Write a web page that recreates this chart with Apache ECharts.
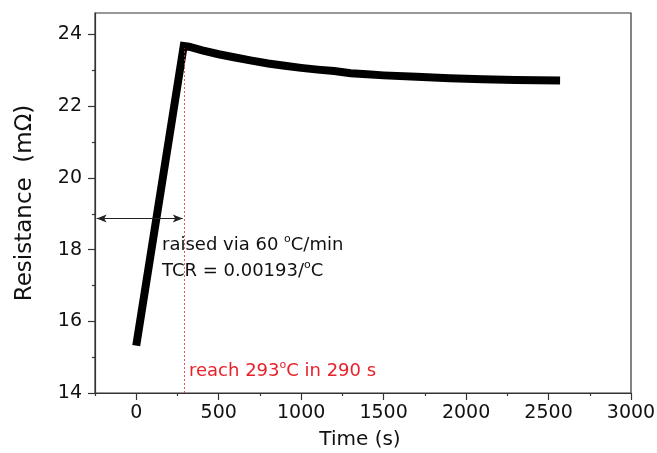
<!DOCTYPE html>
<html>
<head>
<meta charset="utf-8">
<script src="https://cdn.jsdelivr.net/npm/echarts@6/dist/echarts.min.js"></script>
<style>
  html, body { margin: 0; padding: 0; background: #fff; }
  #resistance-chart { width: 657px; height: 453px; }
</style>
</head>
<body>
<div id="resistance-chart"></div>
<script>
// measured curve: time (s) and resistance (mOhm)
var timeS = [0, 288, 320, 400, 500, 600, 700, 800, 900, 1000, 1100, 1200, 1300, 1400, 1500, 1700, 1900, 2100, 2300, 2570];
var resist = [15.32, 23.68, 23.66, 23.56, 23.45, 23.36, 23.27, 23.19, 23.13, 23.07, 23.02, 22.98, 22.92, 22.89, 22.86, 22.82, 22.78, 22.75, 22.73, 22.72];

// tick values
var xMajor = [0, 500, 1000, 1500, 2000, 2500, 3000];
var xMinor = [-250, 250, 750, 1250, 1750, 2250, 2750];
var yMajor = [14, 16, 18, 20, 22, 24];
var yMinor = [15, 17, 19, 21, 23];

// annotation positions (data units)
var heatEnd = 290;
var arrowLevel = 18.87;
var arrowFrom = -240;
var arrowTo = 282;

var chart = echarts.init(document.getElementById('resistance-chart'));
var fontName = 'DejaVu Sans';
var axisColor = '#333';

function pairs() {
	var arr = [];
	timeS.map(function (t, i) {
		arr.push([t, resist[i]]);
	});
	return arr;
}

function sup(color) {
	return { s: { fontFamily: fontName, fontSize: 11, padding: [0, 0, 12, 0], fill: color } };
}

var option = {
	animation: false,
	backgroundColor: '#fff',
	grid: {
		left: 95,
		right: 26,
		top: 13,
		bottom: 60,
		show: true,
		borderColor: axisColor,
		borderWidth: 1.2,
		containLabel: false,
		outerBoundsMode: 'none'
	},
	xAxis: [{
		type: 'value',
		min: -250,
		max: 3000,
		position: 'bottom',
		name: 'Time (s)',
		nameLocation: 'middle',
		nameGap: 37,
		nameTextStyle: { fontFamily: fontName, fontSize: 20, color: '#111', padding: [0, 6, 0, 0] },
		axisLine: { show: true, onZero: false, lineStyle: { color: axisColor, width: 1.2 } },
		axisTick: { show: true, customValues: xMajor, length: 7, lineStyle: { color: axisColor, width: 1.2 } },
		axisLabel: {
			customValues: xMajor, margin: 11, fontFamily: fontName, fontSize: 19, color: '#111',
			formatter: function (v) { return String(v); }
		},
		splitLine: { show: false }
	}, {
		type: 'value',
		min: -250,
		max: 3000,
		position: 'bottom',
		axisLine: { show: false, onZero: false },
		axisTick: { show: true, customValues: xMinor, length: 3, lineStyle: { color: axisColor, width: 1.2 } },
		axisLabel: { show: false },
		splitLine: { show: false }
	}],
	yAxis: [{
		type: 'value',
		min: 14,
		max: 24.6,
		position: 'left',
		name: 'Resistance  (mΩ)',
		nameLocation: 'middle',
		nameGap: 58,
		nameTextStyle: { fontFamily: fontName, fontSize: 23, color: '#111' },
		axisLine: { show: true, onZero: false, lineStyle: { color: axisColor, width: 1.2 } },
		axisTick: { show: true, customValues: yMajor, length: 7, lineStyle: { color: axisColor, width: 1.2 } },
		axisLabel: { customValues: yMajor, margin: 13, fontFamily: fontName, fontSize: 19, color: '#111' },
		splitLine: { show: false }
	}, {
		type: 'value',
		min: 14,
		max: 24.6,
		position: 'left',
		axisLine: { show: false, onZero: false },
		axisTick: { show: true, customValues: yMinor, length: 3, lineStyle: { color: axisColor, width: 1.2 } },
		axisLabel: { show: false },
		splitLine: { show: false }
	}],
	series: [{
		name: 'resistance',
		type: 'line',
		showSymbol: false,
		smooth: false,
		z: 3,
		lineStyle: { color: '#000', width: 8, cap: 'butt', join: 'miter' },
		data: pairs()
	}, {
		name: 'arrow',
		type: 'line',
		data: [],
		z: 4,
		markLine: {
			silent: true,
			animation: false,
			symbol: ['arrow', 'arrow'],
			symbolSize: [6, 10],
			label: { show: false },
			lineStyle: { color: '#222', width: 1, type: 'solid' },
			data: [[{ coord: [arrowFrom, arrowLevel] }, { coord: [arrowTo, arrowLevel] }]]
		}
	}, {
		name: 'heat end',
		type: 'line',
		data: [],
		z: 4,
		markLine: {
			silent: true,
			animation: false,
			symbol: ['none', 'none'],
			label: { show: false },
			lineStyle: { color: '#e8323a', width: 1, type: [2, 2], opacity: 0.85 },
			data: [[{ coord: [heatEnd, 14] }, { coord: [heatEnd, 23.62] }]]
		}
	}],
	graphic: [{
		type: 'text',
		left: 162,
		top: 234,
		style: {
			text: 'raised via 60 {s|o}C/min',
			fontFamily: fontName,
			fontSize: 18,
			fill: '#111',
			rich: sup('#111')
		}
	}, {
		type: 'text',
		left: 162,
		top: 260,
		style: {
			text: 'TCR = 0.00193/{s|o}C',
			fontFamily: fontName,
			fontSize: 18,
			fill: '#111',
			rich: sup('#111')
		}
	}, {
		type: 'text',
		left: 189,
		top: 360,
		style: {
			text: 'reach 293{s|o}C in 290 s',
			fontFamily: fontName,
			fontSize: 18,
			fill: '#e8212a',
			rich: sup('#e8212a')
		}
	}]
};

chart.setOption(option);
window.addEventListener('resize', function () {
	chart.resize();
});
</script>
</body>
</html>
